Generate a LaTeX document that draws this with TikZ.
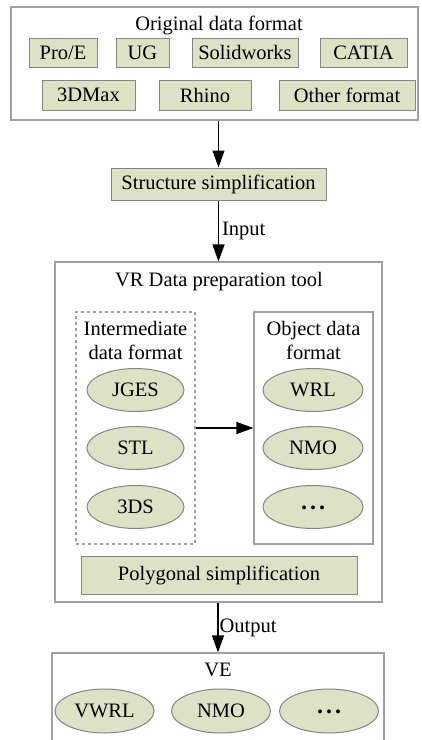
\documentclass[tikz,border=0pt]{standalone}
\usepackage{fontspec}
\setmainfont{Liberation Serif}
\usetikzlibrary{arrows.meta,shapes.geometric}
\definecolor{olive}{HTML}{DDE2C6}
\definecolor{edgegray}{HTML}{858585}
\definecolor{framegray}{HTML}{A0A0A0}
\newcommand{\mydots}{\raisebox{-5pt}{\fontsize{24}{24}\selectfont\bfseries .\hspace{3pt}.\hspace{3pt}.}}
\begin{document}
\begin{tikzpicture}[x=1pt,y=-1pt,
  every node/.style={font=\fontsize{20.5}{23}\selectfont, inner sep=0pt},
  fbox/.style={draw=edgegray, fill=olive, line width=1pt, rectangle},
  fell/.style={draw=edgegray, fill=olive, line width=1pt, ellipse},
  frame/.style={draw=framegray, line width=1.2pt, rectangle},
  arr/.style={-{Triangle[width=12pt,length=17pt]}, line width=1.2pt, black}]
\useasboundingbox (0,0) rectangle (421,740);
\fill[white] (0,0) rectangle (421,740);
% top frame
\node[frame, minimum width=407pt, minimum height=113pt] (top) at (214.5,63.5) {};
\node (toptitle) at (219,25) {Original data format};
\node[fbox, minimum width=68pt, minimum height=29pt] (proe) at (63,52.5) {Pro/E};
\node[fbox, minimum width=53pt, minimum height=29pt] (ug) at (142.5,52.5) {UG};
\node[fbox, minimum width=106pt, minimum height=29pt] (sw) at (245,52.5) {Solidworks};
\node[fbox, minimum width=87pt, minimum height=29pt] (catia) at (363.5,52.5) {CATIA};
\node[fbox, minimum width=93pt, minimum height=30pt] (max) at (88.5,95) {3DMax};
\node[fbox, minimum width=92pt, minimum height=30pt] (rhino) at (205,95) {Rhino};
\node[fbox, minimum width=136pt, minimum height=30pt] (other) at (347,95) {Other format};
% structure simplification
\node[fbox, minimum width=215pt, minimum height=32pt] (struct) at (218.5,184) {Structure simplification};
% VR tool frame
\node[frame, minimum width=327pt, minimum height=340pt] (vr) at (218.5,432) {};
\node (vrtitle) at (219,282) {VR Data preparation tool};
\node[draw=framegray, dashed, line width=1.1pt, minimum width=119pt, minimum height=232pt] (inter) at (135.5,428) {};
\node[align=center, font=\fontsize{20.5}{24}\selectfont] (intertitle) at (135.5,340) {Intermediate\\data format};
\node[frame, minimum width=119pt, minimum height=232pt] (obj) at (313.5,428) {};
\node[align=center, font=\fontsize{20.5}{24}\selectfont] (objtitle) at (313.5,340) {Object data\\format};
\node[fell, minimum width=97pt, minimum height=43pt] (jges) at (135.5,390) {JGES};
\node[fell, minimum width=97pt, minimum height=43pt] (stl) at (135.5,448) {STL};
\node[fell, minimum width=97pt, minimum height=43pt] (tds) at (135.5,507) {3DS};
\node[fell, minimum width=100pt, minimum height=43pt] (wrl) at (313,390) {WRL};
\node[fell, minimum width=100pt, minimum height=43pt] (nmo) at (313,448) {NMO};
\node[fell, minimum width=100pt, minimum height=43pt] (odots) at (313,507) {\mydots};
\node[fbox, minimum width=276pt, minimum height=38pt] (poly) at (219,575) {Polygonal simplification};
% VE frame
\node[frame, minimum width=332pt, minimum height=100pt] (ve) at (218,703) {};
\node (vetitle) at (218,670) {VE};
\node[fell, minimum width=99pt, minimum height=44pt] (vwrl) at (104.5,711) {VWRL};
\node[fell, minimum width=99pt, minimum height=44pt] (nmo2) at (221,711) {NMO};
\node[fell, minimum width=99pt, minimum height=44pt] (vdots) at (329,711) {\mydots};
% connectors
\draw[arr] (top.south -| struct.north) -- (struct.north);
\draw[arr] (struct.south) -- (struct.south |- vr.north) node[midway, right=3pt] (inlbl) {Input};
\draw[arr] (inter.east) -- (obj.west);
\draw[arr] (vr.south -| ve.north) -- (ve.north) node[pos=0.5, right=1pt] (outlbl) {Output};
\end{tikzpicture}
\end{document}
